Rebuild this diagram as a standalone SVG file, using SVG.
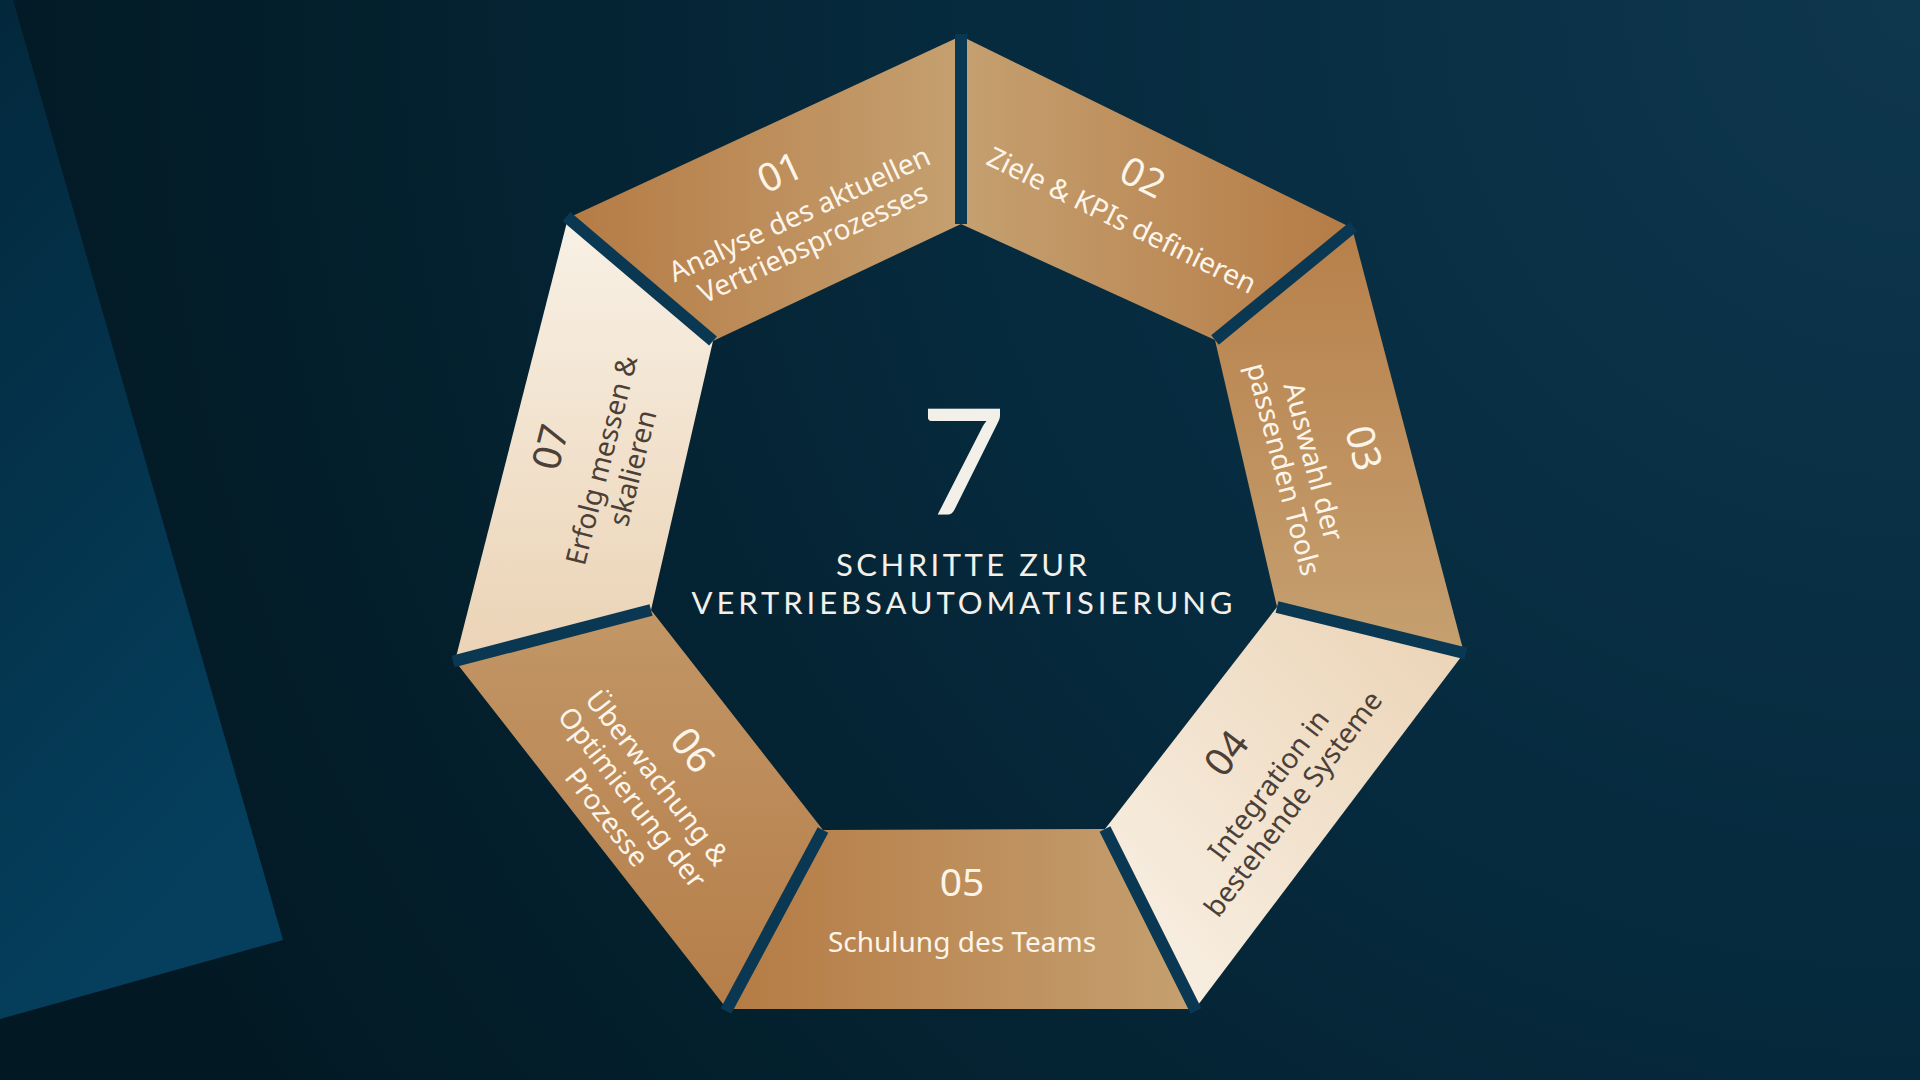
<svg xmlns="http://www.w3.org/2000/svg" width="1920" height="1080" viewBox="0 0 1920 1080">
  <defs>
    <radialGradient id="bg" gradientUnits="userSpaceOnUse" cx="1920" cy="0" r="2000">
      <stop offset="0" stop-color="#0e364d"/>
      <stop offset="0.45" stop-color="#062b3f"/>
      <stop offset="0.75" stop-color="#04212f"/>
      <stop offset="1" stop-color="#021923"/>
    </radialGradient>
    <linearGradient id="side" x1="0" y1="0" x2="0.3" y2="1">
      <stop offset="0" stop-color="#03283c"/>
      <stop offset="1" stop-color="#053f5d"/>
    </linearGradient>
    <linearGradient id="gH" x1="0" y1="0" x2="1" y2="0">
      <stop offset="0" stop-color="#b57b45"/>
      <stop offset="1" stop-color="#c5a070"/>
    </linearGradient>
    <linearGradient id="gHr" x1="1" y1="0" x2="0" y2="0">
      <stop offset="0" stop-color="#b57b45"/>
      <stop offset="1" stop-color="#c5a070"/>
    </linearGradient>
    <linearGradient id="gV" x1="0" y1="0" x2="0" y2="1">
      <stop offset="0" stop-color="#b7804a"/>
      <stop offset="1" stop-color="#c5a070"/>
    </linearGradient>
    <linearGradient id="gVr" x1="0" y1="0" x2="0" y2="1">
      <stop offset="0" stop-color="#c29666"/>
      <stop offset="1" stop-color="#b57e49"/>
    </linearGradient>
    <linearGradient id="c07" x1="0" y1="0" x2="0" y2="1">
      <stop offset="0" stop-color="#f8f1e6"/>
      <stop offset="1" stop-color="#ebd3b5"/>
    </linearGradient>
    <linearGradient id="c04" x1="1" y1="0" x2="0" y2="1">
      <stop offset="0" stop-color="#ebd3b5"/>
      <stop offset="1" stop-color="#f9f2e7"/>
    </linearGradient>
    <style>
      .num { font-family: "Noto Sans", "DejaVu Sans", sans-serif; font-size: 39px; text-anchor: middle; }
      .txt { font-family: "Noto Sans", "DejaVu Sans", sans-serif; font-size: 28px; text-anchor: middle; }
      .lt { fill: #fdf5ea; }
      .dk { fill: #4b3f37; }
      .gap { stroke: #0a3852; stroke-width: 12; fill: none; }
      .head { font-family: "Lato", "Noto Sans", sans-serif; fill: #f3f0ea; text-anchor: middle; }
    </style>
  </defs>

  <rect x="0" y="0" width="1920" height="1080" fill="url(#bg)"/>
  <polygon points="0,0 13,0 283,940 0,1019" fill="url(#side)"/>

  <g id="step-01">
    <polygon points="568,218 961,36 961,224 713,341" fill="url(#gH)"/>
    <g transform="translate(780,172) rotate(-24.8)">
      <text class="num lt" x="0" y="14">01</text>
      <text class="txt lt" x="0" y="56">Analyse des aktuellen</text>
      <text class="txt lt" x="0" y="88">Vertriebsprozesses</text>
    </g>
  </g>

  <g id="step-02">
    <polygon points="961,36 1352,228 1215,340 961,224" fill="url(#gHr)"/>
    <g transform="translate(1143,177) rotate(26.2)">
      <text class="num lt" x="0" y="14">02</text>
      <text class="txt lt" x="0" y="58">Ziele &amp; KPIs definieren</text>
    </g>
  </g>

  <g id="step-03">
    <polygon points="1352,228 1464,653 1277,607 1215,340" fill="url(#gV)"/>
    <g transform="translate(1364,448) rotate(75.2)">
      <text class="num lt" x="0" y="14">03</text>
      <text class="txt lt" x="0" y="62">Auswahl der</text>
      <text class="txt lt" x="0" y="93">passenden Tools</text>
    </g>
  </g>

  <g id="step-04">
    <polygon points="1464,653 1195,1009 1105,829 1277,607" fill="url(#c04)"/>
    <g transform="translate(1226,753) rotate(-52.9)">
      <text class="num dk" x="0" y="14">04</text>
      <text class="txt dk" x="0" y="63">Integration in</text>
      <text class="txt dk" x="0" y="94">bestehende Systeme</text>
    </g>
  </g>

  <g id="step-05">
    <polygon points="1195,1009 727,1009 823,830 1105,829" fill="url(#gH)"/>
    <g transform="translate(962,882)">
      <text class="num lt" x="0" y="14">05</text>
      <text class="txt lt" x="0" y="70">Schulung des Teams</text>
    </g>
  </g>

  <g id="step-06">
    <polygon points="727,1009 455,661 651,610 823,830" fill="url(#gVr)"/>
    <g transform="translate(693,750) rotate(52)">
      <text class="num lt" x="0" y="14">06</text>
      <text class="txt lt" x="0" y="55">Überwachung &amp;</text>
      <text class="txt lt" x="0" y="87">Optimierung der</text>
      <text class="txt lt" x="0" y="119">Prozesse</text>
    </g>
  </g>

  <g id="step-07">
    <polygon points="455,661 568,218 713,341 651,610" fill="url(#c07)"/>
    <g transform="translate(550,447) rotate(-75.7)">
      <text class="num dk" x="0" y="14">07</text>
      <text class="txt dk" x="0" y="63">Erfolg messen &amp;</text>
      <text class="txt dk" x="0" y="95">skalieren</text>
    </g>
  </g>

  <g id="gaps">
    <line class="gap" x1="961" y1="224" x2="961" y2="34"/>
    <line class="gap" x1="1215" y1="340" x2="1353.5" y2="226.7"/>
    <line class="gap" x1="1277" y1="607" x2="1466" y2="653.5"/>
    <line class="gap" x1="1105" y1="829" x2="1196" y2="1011"/>
    <line class="gap" x1="823" y1="830" x2="726" y2="1011"/>
    <line class="gap" x1="651" y1="610" x2="453" y2="661.5"/>
    <line class="gap" x1="713" y1="341" x2="566.5" y2="216.7"/>
  </g>

  <g id="center">
    <text class="head" x="963" y="515" font-size="148">7</text>
    <text class="head" x="961.5" y="576" font-size="31" textLength="251" lengthAdjust="spacing">SCHRITTE ZUR</text>
    <text class="head" x="962" y="614" font-size="31" textLength="541" lengthAdjust="spacing">VERTRIEBSAUTOMATISIERUNG</text>
  </g>
</svg>
